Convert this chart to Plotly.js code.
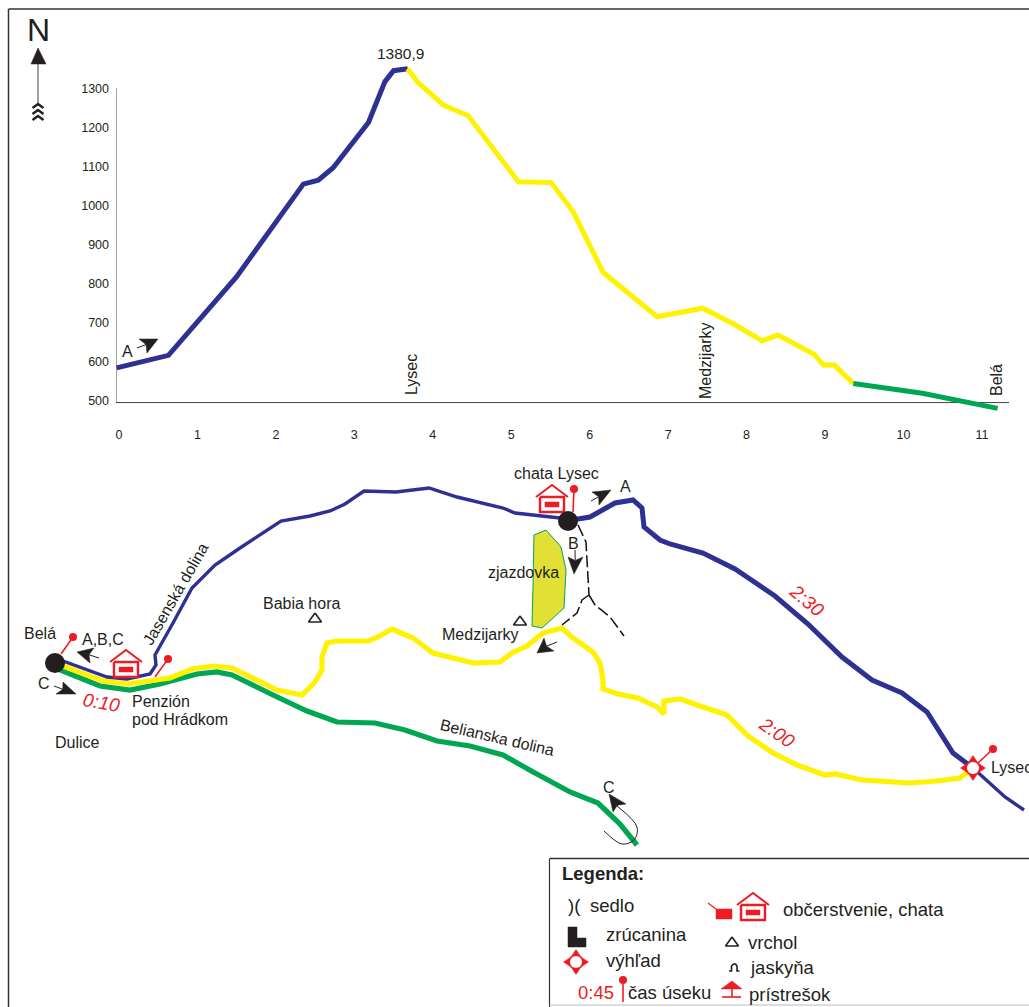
<!DOCTYPE html>
<html>
<head>
<meta charset="utf-8">
<script src="https://cdn.plot.ly/plotly-3.0.1.min.js"></script>
<style>html,body{margin:0;padding:0;background:#fff}#c{width:1029px;height:1007px}</style>
</head>
<body>
<div id="c"></div>
<script>
// ---------- elevation profile (km, m) ----------
const climbKm  = [-0.03,0.63,1.50,2.35,2.54,2.73,3.18,3.39,3.50,3.68];
const climbEle = [585,617,819,1056,1066,1098,1214,1319,1347,1352];
const descKm   = [3.68,3.80,4.14,4.45,5.09,5.51,5.79,6.17,6.86,7.44,7.84,8.20,8.40,8.86,8.98,9.12,9.36];
const descEle  = [1352,1319,1258,1232,1062,1060,985,830,716,738,697,654,669,620,592,592,545];
const lastKm   = [9.36,10.24,11.20];
const lastEle  = [545,520,481];
const xTicks = [0,1,2,3,4,5,6,7,8,9,10,11];
const yTicks = [500,600,700,800,900,1000,1100,1200,1300];

// ---------- map routes (map units) ----------
const blueThinX  = [63,107,127,150,156,155,173,192,215,240,281,310,330,345,364,396,429,457,503,515,560];
const blueThinY  = [661,677,679,674,665,655,623,588,565,548,521,516,511,504,491,492,488,497,508,513,518];
const blueThickX = [560,578,590,615,633,642,644,660,670,703,735,775,808,842,872,902,927,953,973];
const blueThickY = [518,519,517,503,500,508,527,540,544,553,569,596,624,657,680,693,712,753,768];
const blueEndX   = [973,1005,1024];
const blueEndY   = [768,797,810];
const yellowX = [63,103,128,170,192,213,232,277,302,315,322,322,327,337,368,378,392,413,433,453,473,500,512,527,543,562,573,593,600,603,603,618,638,657,664,664,680,703,727,748,773,797,825,835,862,910,937,960,973];
const yellowY = [666,681,684,678,669,666,668,690,695,682,670,657,643,641,641,637,629,638,653,658,663,662,653,646,633,628,638,652,663,680,689,694,698,707,714,701,699,707,715,736,753,765,775,774,780,783,781,778,768];
const greenX  = [58,100,130,160,197,217,232,273,307,337,375,405,437,470,503,535,570,598,620,637];
const greenY  = [669,686,690,684,674,672,675,695,711,722,723,730,741,746,755,773,792,803,824,845];
const slopeX  = [534,546,561,566,564,542,532,533,534];
const slopeY  = [535,530,547,570,608,628,626,587,535];
const pathMainX  = [578,586,587,589];
const pathMainY  = [525,542,560,595];
const pathLeftX  = [589,582,577,562];
const pathLeftY  = [595,600,613,625];
const pathRightX = [589,595,610,624];
const pathRightY = [595,605,617,636];

// ---------- symbols ----------
const houseAt = [[126,650],[552,485],[753,893]];
const pinFromTo = [[61,654,73,637],[155,677,168,659],[573,512,574,489],[978,763,993,749],[623,1002,623,980]];
const peakAt = [[315,613],[520,616],[732,937]];
const hubX = [55,568];
const hubY = [663,521];
const viewAt = [[973,768],[576,962]];
// tip, base corner, base corner, tail end
const arrows = [
  [[158,339],[147,353],[139,339],[137,348]],
  [[77,652],[94,648],[90,663],[99,658]],
  [[76,694],[63,682],[56,694],[54,686]],
  [[611,490],[592,492],[599,505],[591,501]],
  [[574,574],[568,557],[583,557],[575,550]],
  [[537,653],[544,638],[554,651],[557,642]],
  [[609,794],[626,804],[613,812],[617,806]]
];

// ---------- text ----------
const FONT = '"Liberation Sans", Arial, sans-serif';
const INK = '#231f20', RED = '#ed1c24';
const labels = [
  ['1380,9',400,53,15.5,0], ['A',127,351,16,0],
  ['Lysec',411,375,16,-90], ['Medzijarky',705,361,16,-90], ['Belá',996,380,16,-90],
  ['Belá',40,633,16,0], ['A,B,C',103,639,16,0], ['C',44,683,16,0],
  ['Dulice',77,742,16,0], ['Babia hora',301,603,16,0],
  ['Jasenská dolina',175,594,16,-60], ['chata Lysec',556,473,16,0],
  ['A',625,486,16,0], ['B',573,543,16,0], ['zjazdovka',523,572,16,0],
  ['Medzijarky',480,634,16,0], ['Belianska dolina',497,737,16,13], ['C',609,787,16,0]
];
const leftLabels = [
  ['Penzión',132,701,16], ['pod Hrádkom',132,719,16], ['Lysec',991,767,16],
  [')(',568,905,18.5], ['sedlo',590,905,18.5], ['občerstvenie, chata',783,909,18.5],
  ['zrúcanina',606,934,18.5], ['výhľad',606,960,18.5], ['vrchol',748,942,18.5],
  ['jaskyňa',750,967,18.5], ['čas úseku',628,992,18.5], ['prístrešok',749,994,18.5]
];
const timeLabels = [['0:10',101,702,19,10],['2:30',807,600,19,40],['2:00',777,732,19,35]];

// ---------- build ----------
const t = [];
const MAP = {xaxis:'x2', yaxis:'y2'};
function line(x,y,color,width,extra){
  t.push(Object.assign({type:'scatter',mode:'lines',x:x,y:y,line:{color:color,width:width,simplify:false},
    hoverinfo:'skip',showlegend:false,cliponaxis:false},MAP,extra||{}));
}
function poly(pts,fill,color,width){
  line(pts.map(p=>p[0]).concat(pts[0][0]),pts.map(p=>p[1]).concat(pts[0][1]),color||fill,width===undefined?0.5:width,{fill:'toself',fillcolor:fill});
}
function dots(x,y,size,color){
  t.push(Object.assign({type:'scatter',mode:'markers',x:x,y:y,marker:{size:size,color:color,line:{width:0}},
    hoverinfo:'skip',showlegend:false,cliponaxis:false},MAP));
}
const off = (a,dx,dy)=>a.map(p=>[p[0]+dx,p[1]+dy]);
const xs = a=>a.map(p=>p[0]), ys = a=>a.map(p=>p[1]);

// frame
line([8.5,8.5],[1007,9],'#333',1.5);
line([8.5,1029],[9,9],'#333',1.5);
line([549.5,549.5],[1007,858.5],'#333',1.2);
line([549.5,1029],[858.5,858.5],'#333',1.5);
line([549.5,1029],[1005,1005],'#bbb',1);

// profile (axis lines drawn on the profile's own scales)
const X0=-0.038, X1=11.345, Y0=496, Y1=1302;
function prof(x,y,c,w){t.push({type:'scatter',mode:'lines',x:x,y:y,line:{color:c,width:w,simplify:false},hoverinfo:'skip',showlegend:false});}
prof([X0,X0,X1],[Y1,Y0,Y0],'#444',1);
prof(climbKm,climbEle,'#2e3192',5);
prof(descKm,descEle,'#fff200',5);
prof(lastKm,lastEle,'#00a651',5);

// map
line(slopeX,slopeY,'#00a651',1,{fill:'toself',fillcolor:'#e3e035'});
line(greenX,greenY,'#00a651',5.2);
line(yellowX,yellowY,'#fff200',5.2);
line(blueThinX,blueThinY,'#2e3192',3.4);
line(blueThickX,blueThickY,'#2e3192',5);
line(blueEndX,blueEndY,'#2e3192',3.4);
[[pathMainX,pathMainY],[pathLeftX,pathLeftY],[pathRightX,pathRightY]].forEach(p=>line(p[0],p[1],'#111',1.5,{line:{color:'#111',width:1.5,dash:'12px,4px'}}));

// north arrow
poly([[38,48],[46,64],[31,64]],INK);
line([38,38],[64,103],'#444',1);
[0,6,12].forEach(d=>line([32.5,38,43.5],[108+d,104+d,108+d],INK,2.4));

// houses
houseAt.forEach(h=>{
  const [a,b]=h;
  line(xs(off([[-16,12],[0,0],[16,12]],a,b)),ys(off([[-16,12],[0,0],[16,12]],a,b)),RED,2);
  poly(off([[-12,12],[12,12],[12,27],[-12,27]],a,b),'#ffffff',RED,2.4);
  poly(off([[-7,17],[7,17],[7,22],[-7,22]],a,b),RED);
});
// pins
dots(hubX,hubY,20,INK);
pinFromTo.forEach(p=>{ line([p[0],p[2]],[p[1],p[3]],RED,1.6); dots([p[2]],[p[3]],8,RED); });
// triangles
peakAt.forEach(h=>poly(off([[0,0],[6.5,9],[-6.5,9]],h[0],h[1]),'#ffffff',INK,1.6));
// viewpoint
viewAt.forEach(v=>{
  poly(off([[0,-12.5],[4,-6.5],[6.5,-4],[12.5,0],[6.5,4],[4,6.5],[0,12.5],[-4,6.5],[-6.5,4],[-12.5,0],[-6.5,-4],[-4,-6.5]],v[0],v[1]),RED);
  dots([v[0]],[v[1]],12,'#ffffff');
});
// arrows
arrows.forEach(a=>{
  const mx=(a[1][0]+a[2][0])/2, my=(a[1][1]+a[2][1])/2;
  const nx=mx+0.2*(a[0][0]-mx), ny=my+0.2*(a[0][1]-my);
  poly([a[0],a[1],[nx,ny],a[2]],INK);
  line([nx,a[3][0]],[ny,a[3][1]],INK,1);
});
line([617,637,634,622,604],[806,827,840,844,831],INK,1,{line:{color:INK,width:1,shape:'spline',smoothing:1}});
// legend symbols
poly([[568,927],[577,927],[577,938],[586,938],[586,947],[568,947]],INK);
line([729,731.5,731.5,733.5,735.5,737,737,739.5],[971,971,966,964,964,966,971,971],INK,1.6);
poly([[721,989],[732,981],[742,989]],RED);
line([732,732],[989,997],RED,1.6);
line([722,741],[997,997],RED,1.6);
poly([[716,909],[732,909],[732,919],[716,919]],RED);
line([708,716],[903,909],RED,1.2);

// annotations
const ann = [];
function note(text,x,y,size,angle,opt){
  ann.push(Object.assign({xref:'x2',yref:'y2',x:x,y:y,text:text,showarrow:false,textangle:angle||0,
    font:{family:FONT,size:size,color:INK},xanchor:'center',yanchor:'middle',borderpad:0,borderwidth:0},opt||{}));
}
labels.forEach(l=>note(l[0],l[1],l[2],l[3],l[4]));
leftLabels.forEach(l=>note(l[0],l[1],l[2],l[3],0,{xanchor:'left'}));
timeLabels.forEach(l=>note('<i>'+l[0]+'</i>',l[1],l[2],l[3],l[4],{font:{family:FONT,size:l[3],color:RED}}));
note('<b>Legenda:</b>',562,873,18.5,0,{xanchor:'left'});
note('0:45',578,992,18.5,0,{xanchor:'left',font:{family:FONT,size:18.5,color:RED}});
note('N',38,30,32,0);

const W=1029,H=1007;
const tickFont={family:FONT,size:12.5,color:INK};
// the profile's plot area is kept taller than its drawn axis so the peak and the end of the line stay visible
const PTOP=50, PBOT=420;
const yAt=p=>500+(401-p)*100/39;
const layout={
  width:W,height:H,margin:{l:0,r:0,t:0,b:0},paper_bgcolor:'#fff',plot_bgcolor:'rgba(0,0,0,0)',showlegend:false,
  xaxis:{domain:[116/W,1009/W],range:[X0,X1],tickvals:xTicks,ticktext:xTicks.map(String),ticks:'',
    showgrid:false,zeroline:false,showline:false,anchor:'y',tickfont:tickFont,ticklabelstandoff:5},
  yaxis:{domain:[1-PBOT/H,1-PTOP/H],range:[yAt(PBOT),yAt(PTOP)],tickvals:yTicks,ticktext:yTicks.map(String),ticks:'',
    showgrid:false,zeroline:false,showline:false,anchor:'x',tickfont:tickFont,ticklabelstandoff:6},
  xaxis2:{domain:[0,1],range:[0,W],visible:false,anchor:'y2'},
  yaxis2:{domain:[0,1],range:[H,0],visible:false,anchor:'x2'},
  annotations:ann
};
Plotly.newPlot('c',t,layout,{displayModeBar:false,staticPlot:true});
</script>
</body>
</html>
